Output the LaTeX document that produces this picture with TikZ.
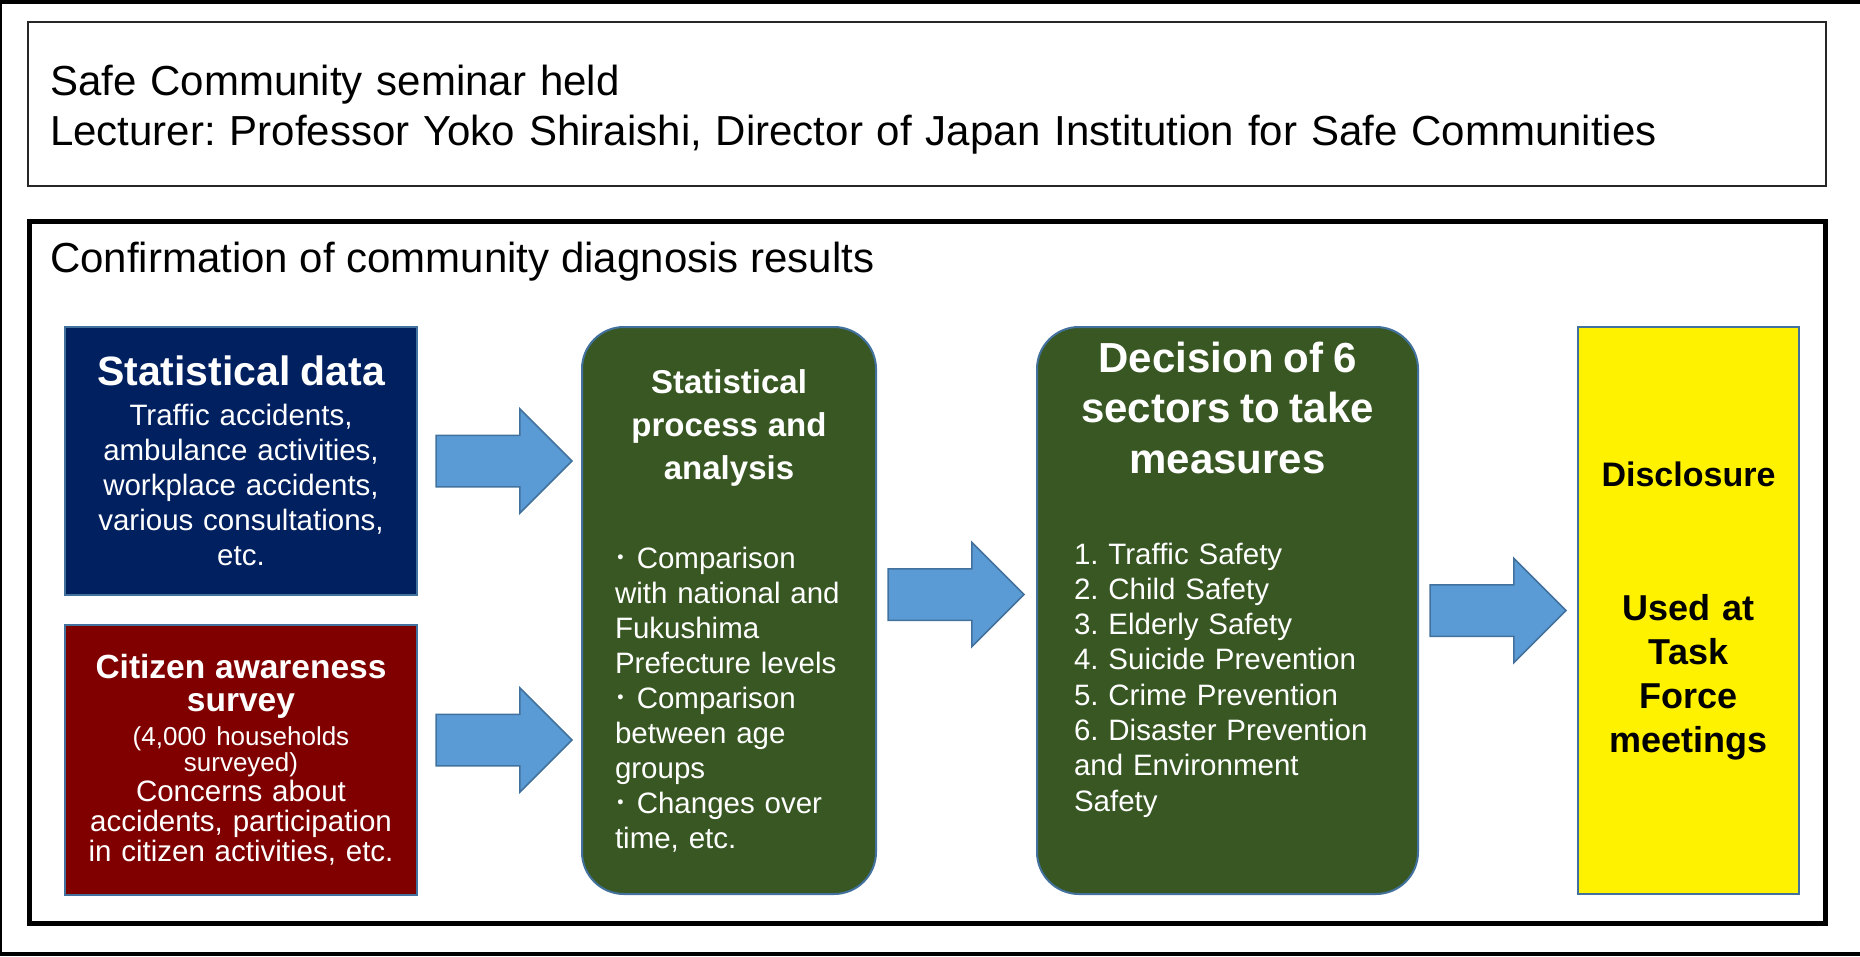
\documentclass[tikz,border=0pt]{standalone}
\usepackage{fontspec}
\setmainfont{Liberation Sans}
\newfontfamily\cjk{Noto Sans CJK JP}
\usepackage{xcolor}
\usepackage{tikz}
\usetikzlibrary{shapes,arrows,positioning,calc}
\definecolor{navy_dat}{RGB}{0,32,96}
\definecolor{red_dat}{RGB}{128,0,0}
\definecolor{green_box}{RGB}{56,87,35}
\definecolor{blue_arr}{RGB}{91,155,213}
\definecolor{blue_line}{RGB}{65,113,156}
\frenchspacing

\begin{document}
\begin{tikzpicture}[
x=1pt, y=-1pt,
hdr/.style={
  draw=black!85,
  line width=2pt,
  minimum width=1798pt,
  minimum height=164pt,
  text width=1754pt,
  align=left,
  inner sep=0pt,
  outer sep=0pt,
  font=\fontsize{42}{50}\selectfont
  },
dat/.style={
  draw=blue_line,
  fill=#1,
  line width=2pt,
  minimum width=352pt,
  text width=340pt,
  align=center,
  inner sep=0pt,
  outer sep=0pt,
  text=white
  },
rnd/.style={
  draw=blue_line,
  fill=green_box,
  line width=2pt,
  rounded corners=42pt,
  minimum height=567pt,
  align=left,
  inner sep=0pt,
  outer sep=0pt,
  text=white,
  font=\fontsize{29.5}{35}\selectfont
  },
pub/.style={
  draw=blue_line,
  fill=yellow,
  line width=2pt,
  minimum height=567pt,
  minimum width=221pt,
  text width=200pt,
  align=center,
  inner sep=0pt,
  outer sep=0pt,
  font=\bfseries\fontsize{36}{44}\selectfont
  },
blk/.style={
  single arrow,
  draw=blue_line,
  fill=blue_arr,
  line width=1.5pt,
  minimum height=136pt,
  single arrow head extend=26.5pt,
  inner xsep=0pt,
  inner ysep=25pt,
  outer sep=0pt
  },
node distance=30pt and 19pt
]
\useasboundingbox (0,0) rectangle (1860,956);

%Frames
\draw[line width=4pt] (0,2) rectangle (1866,954);
\draw[line width=5pt] (29.5,221) rectangle (1825.5,923.5);

\node[hdr, text height=41pt] (sem) at (927,104)
  {Safe Community seminar held\\
   Lecturer: Professor Yoko Shiraishi, Director of Japan Institution for Safe Communities};
\node[anchor=base west, inner sep=0pt, font=\fontsize{42}{50}\selectfont] (conf) at (50,272)
  {Confirmation of community diagnosis results};

%The nodes for the left
\node[dat=navy_dat, minimum height=268pt, font=\fontsize{29.5}{35}\selectfont] (stat) at (241,461)
  {{\fontsize{41}{41}\selectfont\bfseries Statistical data}\\[5pt]
   Traffic accidents,\\ambulance activities,\\workplace accidents,\\
   various consultations,\\etc.};
\node[dat=red_dat, minimum height=270pt, font=\fontsize{29.5}{30}\selectfont, below=of stat] (cit)
  {{\fontsize{33.5}{30}\selectfont\bfseries Citizen awareness\\[3pt]survey}\\[4pt]
   {\fontsize{26}{30}\selectfont (4,000 households\\[-4pt]surveyed)}\\
   Concerns about\\accidents, participation\\in citizen activities, etc.};

%The nodes for the middle
\node[rnd, minimum width=294pt, text width=228pt,
  right=165pt of stat.north east, anchor=north west] (proc)
  {{\centering\fontsize{33}{43}\selectfont\bfseries Statistical\\process and\\analysis\par}
   \vspace{54pt}
   \hspace*{-2pt}{\cjk ･}\hspace{9pt}Comparison\\with national and\\Fukushima\\Prefecture levels\\
   \hspace*{-2pt}{\cjk ･}\hspace{9pt}Comparison\\between age\\groups\\
   \hspace*{-2pt}{\cjk ･}\hspace{9pt}Changes over\\time, etc.};
\node[rnd, minimum width=381pt, text width=307pt, text height=30pt, text depth=507pt,
  font=\fontsize{29.5}{35.3}\selectfont,
  right=161pt of proc.north east, anchor=north west] (dec)
  {{\centering\fontsize{42}{50.5}\selectfont\bfseries Decision of 6\\sectors to take\\measures\par}
   \vspace{55.7pt}
   1. Traffic Safety\\2. Child Safety\\3. Elderly Safety\\4. Suicide Prevention\\
   5. Crime Prevention\\6. Disaster Prevention\\and Environment\\Safety};

%The node for the right
\node[pub, right=160pt of dec.north east, anchor=north west] (use)
  {{\fontsize{34}{44}\selectfont Disclosure}\\[90pt]
   Used at\\Task\\Force\\meetings};

%Arrows
\node[blk, right=of stat, anchor=tail] (a1) {};
\node[blk, right=of cit, anchor=tail, yshift=20pt] (a2) {};
\node[blk, right=12pt of proc, anchor=tail, yshift=16pt] (a3) {};
\node[blk, right=12pt of dec, anchor=tail] (a4) {};

\end{tikzpicture}
\end{document}
